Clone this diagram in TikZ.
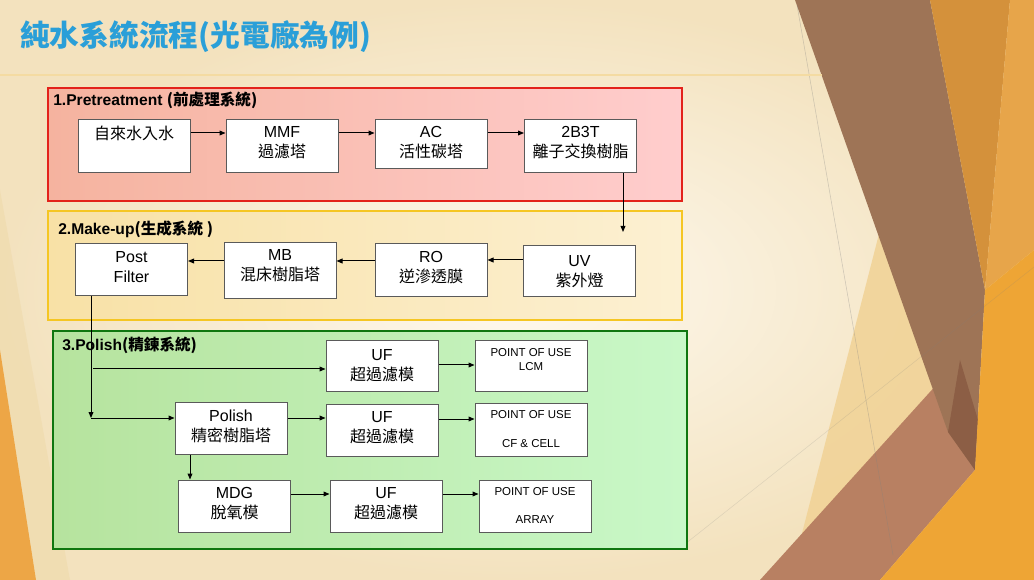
\documentclass[tikz,border=0pt]{standalone}
\usepackage{fontspec}
\setmainfont{Liberation Sans}
\newfontfamily\cjk{Noto Sans CJK TC}
\usetikzlibrary{arrows.meta}
\newcommand\zhtxt[1]{{\cjk #1}}
\definecolor{bgin}{HTML}{FEF9EF}
\definecolor{bgout}{HTML}{F3E2BE}
\definecolor{titleblue}{HTML}{2A9FD8}
\definecolor{rule}{HTML}{F4DBA2}
\definecolor{redline}{HTML}{E3221B}
\definecolor{redL}{HTML}{F5B39F}
\definecolor{redR}{HTML}{FFCDCD}
\definecolor{yelline}{HTML}{F5C623}
\definecolor{yelL}{HTML}{F8E1A6}
\definecolor{yelR}{HTML}{FCF0D2}
\definecolor{grnline}{HTML}{0F760F}
\definecolor{grnL}{HTML}{B6E39E}
\definecolor{grnR}{HTML}{C9F8C8}
\definecolor{boxline}{HTML}{5A5A5A}
\definecolor{brownA}{HTML}{9E7456}
\definecolor{brownD}{HTML}{8C5E45}
\definecolor{orangeA}{HTML}{D4913B}
\definecolor{orangeB}{HTML}{E7A54A}
\definecolor{orangeC}{HTML}{EEA535}
\definecolor{rose}{HTML}{B88062}
\definecolor{tanA}{HTML}{F1D295}
\definecolor{tanL}{HTML}{F0DBAE}
\definecolor{orangeL}{HTML}{EDA646}
\begin{document}
\begin{tikzpicture}[x=0.75pt,y=-0.75pt,
  box/.style={draw=boxline, fill=white, line width=0.75pt, minimum width=84pt, inner sep=0pt},
  txt/.style={font=\fontsize{12pt}{15pt}\selectfont, align=center, inner sep=0pt},
  pou/.style={font=\fontsize{8.6pt}{10pt}\selectfont, inner sep=0pt},
  arr/.style={-{Triangle[length=4.5pt,width=3.6pt]}, line width=0.75pt},
  grp/.style={line width=1.5pt, inner sep=0pt, minimum width=475.5pt},
  glabel/.style={font=\bfseries\fontsize{11.7pt}{13pt}\selectfont, anchor=west, inner sep=0pt}]
\useasboundingbox (0,0) rectangle (1034,580);
% background
\shade[inner color=bgin, outer color=bgout] (0,0) rectangle (1034,580);
\fill[tanL, opacity=0.7] (0,190) -- (0,580) -- (70,580) -- cycle;
\fill[orangeL] (0,350) -- (0,580) -- (36,580) -- cycle;
\fill[tanA, opacity=0.85] (880,230) -- (960,450) -- (880,580) -- (790,580) -- cycle;
\fill[rose] (760,580) -- (948,372) -- (975,470) -- (880,580) -- cycle;
\fill[brownA] (795,0) -- (930,0) -- (985,290) -- (975,470) -- (948,432) -- cycle;
\fill[brownD] (948,432) -- (960,360) -- (978,420) -- (975,470) -- cycle;
\fill[orangeA] (930,0) -- (1010,0) -- (985,290) -- cycle;
\fill[orangeB] (1010,0) -- (1034,0) -- (1034,250) -- (985,290) -- cycle;
\fill[orangeC] (880,580) -- (975,470) -- (985,290) -- (1034,250) -- (1034,580) -- cycle;
\draw[gray, opacity=0.35, line width=0.4pt] (797,5) -- (893,555);
\draw[gray, opacity=0.2, line width=0.4pt] (680,548) -- (1034,267);
\draw[rule, line width=2pt] (0,75) -- (822,75);
% title
\node[anchor=west, inner sep=0pt, text=titleblue, font=\cjk\bfseries\fontsize{22.3pt}{26pt}\selectfont] (title) at (20,37) {純水系統流程(光電廠為例)};
% groups
\node[grp, draw=redline, left color=redL, right color=redR, minimum height=84.75pt] (g1) at (365,144.5) {};
\node[grp, draw=yelline, left color=yelL, right color=yelR, minimum height=81.75pt] (g2) at (365,265.5) {};
\node[grp, draw=grnline, left color=grnL, right color=grnR, minimum height=163.5pt] (g3) at (370,440) {};
\node[glabel] (g1l) at (53,100) {1.Pretreatment \zhtxt{(前處理系統)}};
\node[glabel] (g2l) at (58,229) {2.Make-up\zhtxt{(生成系統 )}};
\node[glabel] (g3l) at (62,345) {3.Polish\zhtxt{(精鍊系統)}};
% row 1
\node[box, minimum height=39.75pt] (water) at (134,146) {};
\node[txt] (water-t) at (134,133) {\zhtxt{自來水入水}};
\node[box, minimum height=39.75pt] (mmf) at (282,146) {};
\node[txt] (mmf-t) at (282,143) {MMF\\\zhtxt{過濾塔}};
\node[box, minimum height=36.75pt] (ac) at (431,144.5) {};
\node[txt] (ac-t) at (431,143) {AC\\\zhtxt{活性碳塔}};
\node[box, minimum height=39.75pt] (b3t) at (580.5,146.5) {};
\node[txt] (b3t-t) at (580.5,143) {2B3T\\\zhtxt{離子交換樹脂}};
% row 2
\node[box, minimum height=39pt] (pf) at (131.5,270) {};
\node[txt] (pf-t) at (131.5,267) {Post\\Filter};
\node[box, minimum height=42pt] (mb) at (280,271) {};
\node[txt] (mb-t) at (280,266) {MB\\\zhtxt{混床樹脂塔}};
\node[box, minimum height=39.75pt] (ro) at (431,270.5) {};
\node[txt] (ro-t) at (431,267.5) {RO\\\zhtxt{逆滲透膜}};
\node[box, minimum height=38.25pt] (uv) at (579.5,271.5) {};
\node[txt] (uv-t) at (579.5,272) {UV\\\zhtxt{紫外燈}};
% row 3
\node[box, minimum height=38.25pt] (uf1) at (382,366.5) {};
\node[txt] (uf1-t) at (382,366) {UF\\\zhtxt{超過濾模}};
\node[box, minimum height=38.25pt] (pou1) at (531,366.5) {};
\node[pou] (pou1-a) at (531,353) {POINT OF USE};
\node[pou] (pou1-b) at (531,367) {LCM};
\node[box, minimum height=38.25pt] (polish) at (231,428.5) {};
\node[txt] (polish-t) at (231,426.5) {Polish\\\zhtxt{精密樹脂塔}};
\node[box, minimum height=38.25pt] (uf2) at (382,430.5) {};
\node[txt] (uf2-t) at (382,428) {UF\\\zhtxt{超過濾模}};
\node[box, minimum height=39pt] (pou2) at (531,430) {};
\node[pou] (pou2-a) at (531,415) {POINT OF USE};
\node[pou] (pou2-b) at (531,444) {CF \& CELL};
\node[box, minimum height=39pt] (mdg) at (234.5,506) {};
\node[txt] (mdg-t) at (234.5,504) {MDG\\\zhtxt{脫氧模}};
\node[box, minimum height=39pt] (uf3) at (386,506) {};
\node[txt] (uf3-t) at (386,504) {UF\\\zhtxt{超過濾模}};
\node[box, minimum height=39pt] (pou3) at (535,506) {};
\node[pou] (pou3-a) at (535,492) {POINT OF USE};
\node[pou] (pou3-b) at (535,520) {ARRAY};
% connectors
\draw[arr] (water.east |- 0,133) -- (mmf.west |- 0,133);
\draw[arr] (mmf.east |- 0,133) -- (ac.west |- 0,133);
\draw[arr] (ac.east |- 0,133) -- (b3t.west |- 0,133);
\coordinate (uvin) at (623,232);
\draw[arr] (b3t.south -| uvin) -- (uvin);
\draw[arr] (uv.west |- 0,260) -- (ro.east |- 0,260);
\draw[arr] (ro.west |- 0,261) -- (mb.east |- 0,261);
\draw[arr] (mb.west |- 0,261) -- (pf.east |- 0,261);
\coordinate (pfdown) at (91,418);
\draw[arr] (pf.south -| pfdown) -- (pfdown);
\draw[arr] (pfdown) -- (polish.west |- pfdown);
\coordinate (uf1in) at (93,369);
\draw[arr] (uf1in) -- (uf1.west |- uf1in);
\draw[arr] (uf1.east |- 0,365) -- (pou1.west |- 0,365);
\draw[arr] (polish.east |- 0,418) -- (uf2.west |- 0,418);
\draw[arr] (uf2.east |- 0,419) -- (pou2.west |- 0,419);
\coordinate (mdgx) at (190,0);
\draw[arr] (polish.south -| mdgx) -- (mdg.north -| mdgx);
\draw[arr] (mdg.east |- 0,494) -- (uf3.west |- 0,494);
\draw[arr] (uf3.east |- 0,494) -- (pou3.west |- 0,494);
\end{tikzpicture}
\end{document}
